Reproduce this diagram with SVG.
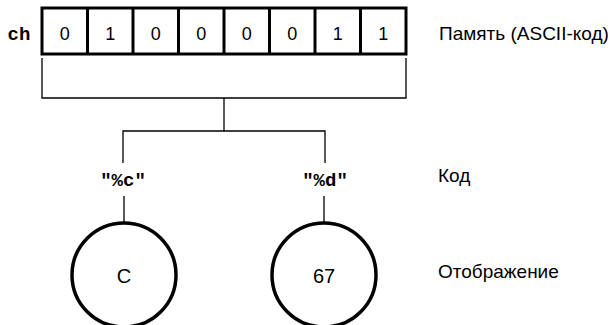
<svg xmlns="http://www.w3.org/2000/svg" width="612" height="325" viewBox="0 0 612 325">
<style>
.cell{fill:#fff;stroke:#000;stroke-width:3}
.bit{font-family:"Liberation Sans",Arial,sans-serif;font-size:18px;text-anchor:middle}
.mono{font-family:"Liberation Mono","Courier New",monospace;font-weight:bold;font-size:19px;text-anchor:middle}
.lbl{font-family:"Liberation Sans",Arial,sans-serif;font-size:19px}
.ln{fill:none;stroke:#000;stroke-width:1.3}
.circ{fill:#fff;stroke:#000;stroke-width:3.5}
.ctext{font-family:"Liberation Sans",Arial,sans-serif;font-size:20px;text-anchor:middle}
</style>
<rect width="612" height="325" fill="#fff"/>
<g id="memory">
<text class="mono" x="19" y="40">ch</text>
<rect class="cell" x="42" y="8" width="364" height="46"/>
<g stroke="#000" stroke-width="3">
<line x1="87.5" y1="8" x2="87.5" y2="54"/>
<line x1="133" y1="8" x2="133" y2="54"/>
<line x1="178.5" y1="8" x2="178.5" y2="54"/>
<line x1="224" y1="8" x2="224" y2="54"/>
<line x1="269.5" y1="8" x2="269.5" y2="54"/>
<line x1="315" y1="8" x2="315" y2="54"/>
<line x1="360.5" y1="8" x2="360.5" y2="54"/>
</g>
<text class="bit" x="64.75" y="40">0</text>
<text class="bit" x="110.25" y="40">1</text>
<text class="bit" x="155.75" y="40">0</text>
<text class="bit" x="201.25" y="40">0</text>
<text class="bit" x="246.75" y="40">0</text>
<text class="bit" x="292.25" y="40">0</text>
<text class="bit" x="337.75" y="40">1</text>
<text class="bit" x="383.25" y="40">1</text>
</g>
<g id="connectors">
<path class="ln" d="M42,58 V98 H406 V58"/>
<path class="ln" d="M224,98 V131"/>
<path class="ln" d="M123,163 V131 H325 V163"/>
<path class="ln" d="M124,196 V222"/>
<path class="ln" d="M324,196 V222"/>
</g>
<g id="fmt-c"><text class="mono" x="123" y="186">"%c"</text></g>
<g id="fmt-d"><text class="mono" x="325" y="186">"%d"</text></g>
<g id="disp-c"><circle class="circ" cx="124" cy="275" r="52"/><text class="ctext" x="124" y="283">C</text></g>
<g id="disp-d"><circle class="circ" cx="324" cy="275" r="52"/><text class="ctext" x="324" y="283">67</text></g>
<g id="labels">
<text class="lbl" x="439" y="40">Память (ASCII-код)</text>
<text class="lbl" x="438" y="182">Код</text>
<text class="lbl" x="438" y="278">Отображение</text>
</g>
</svg>
